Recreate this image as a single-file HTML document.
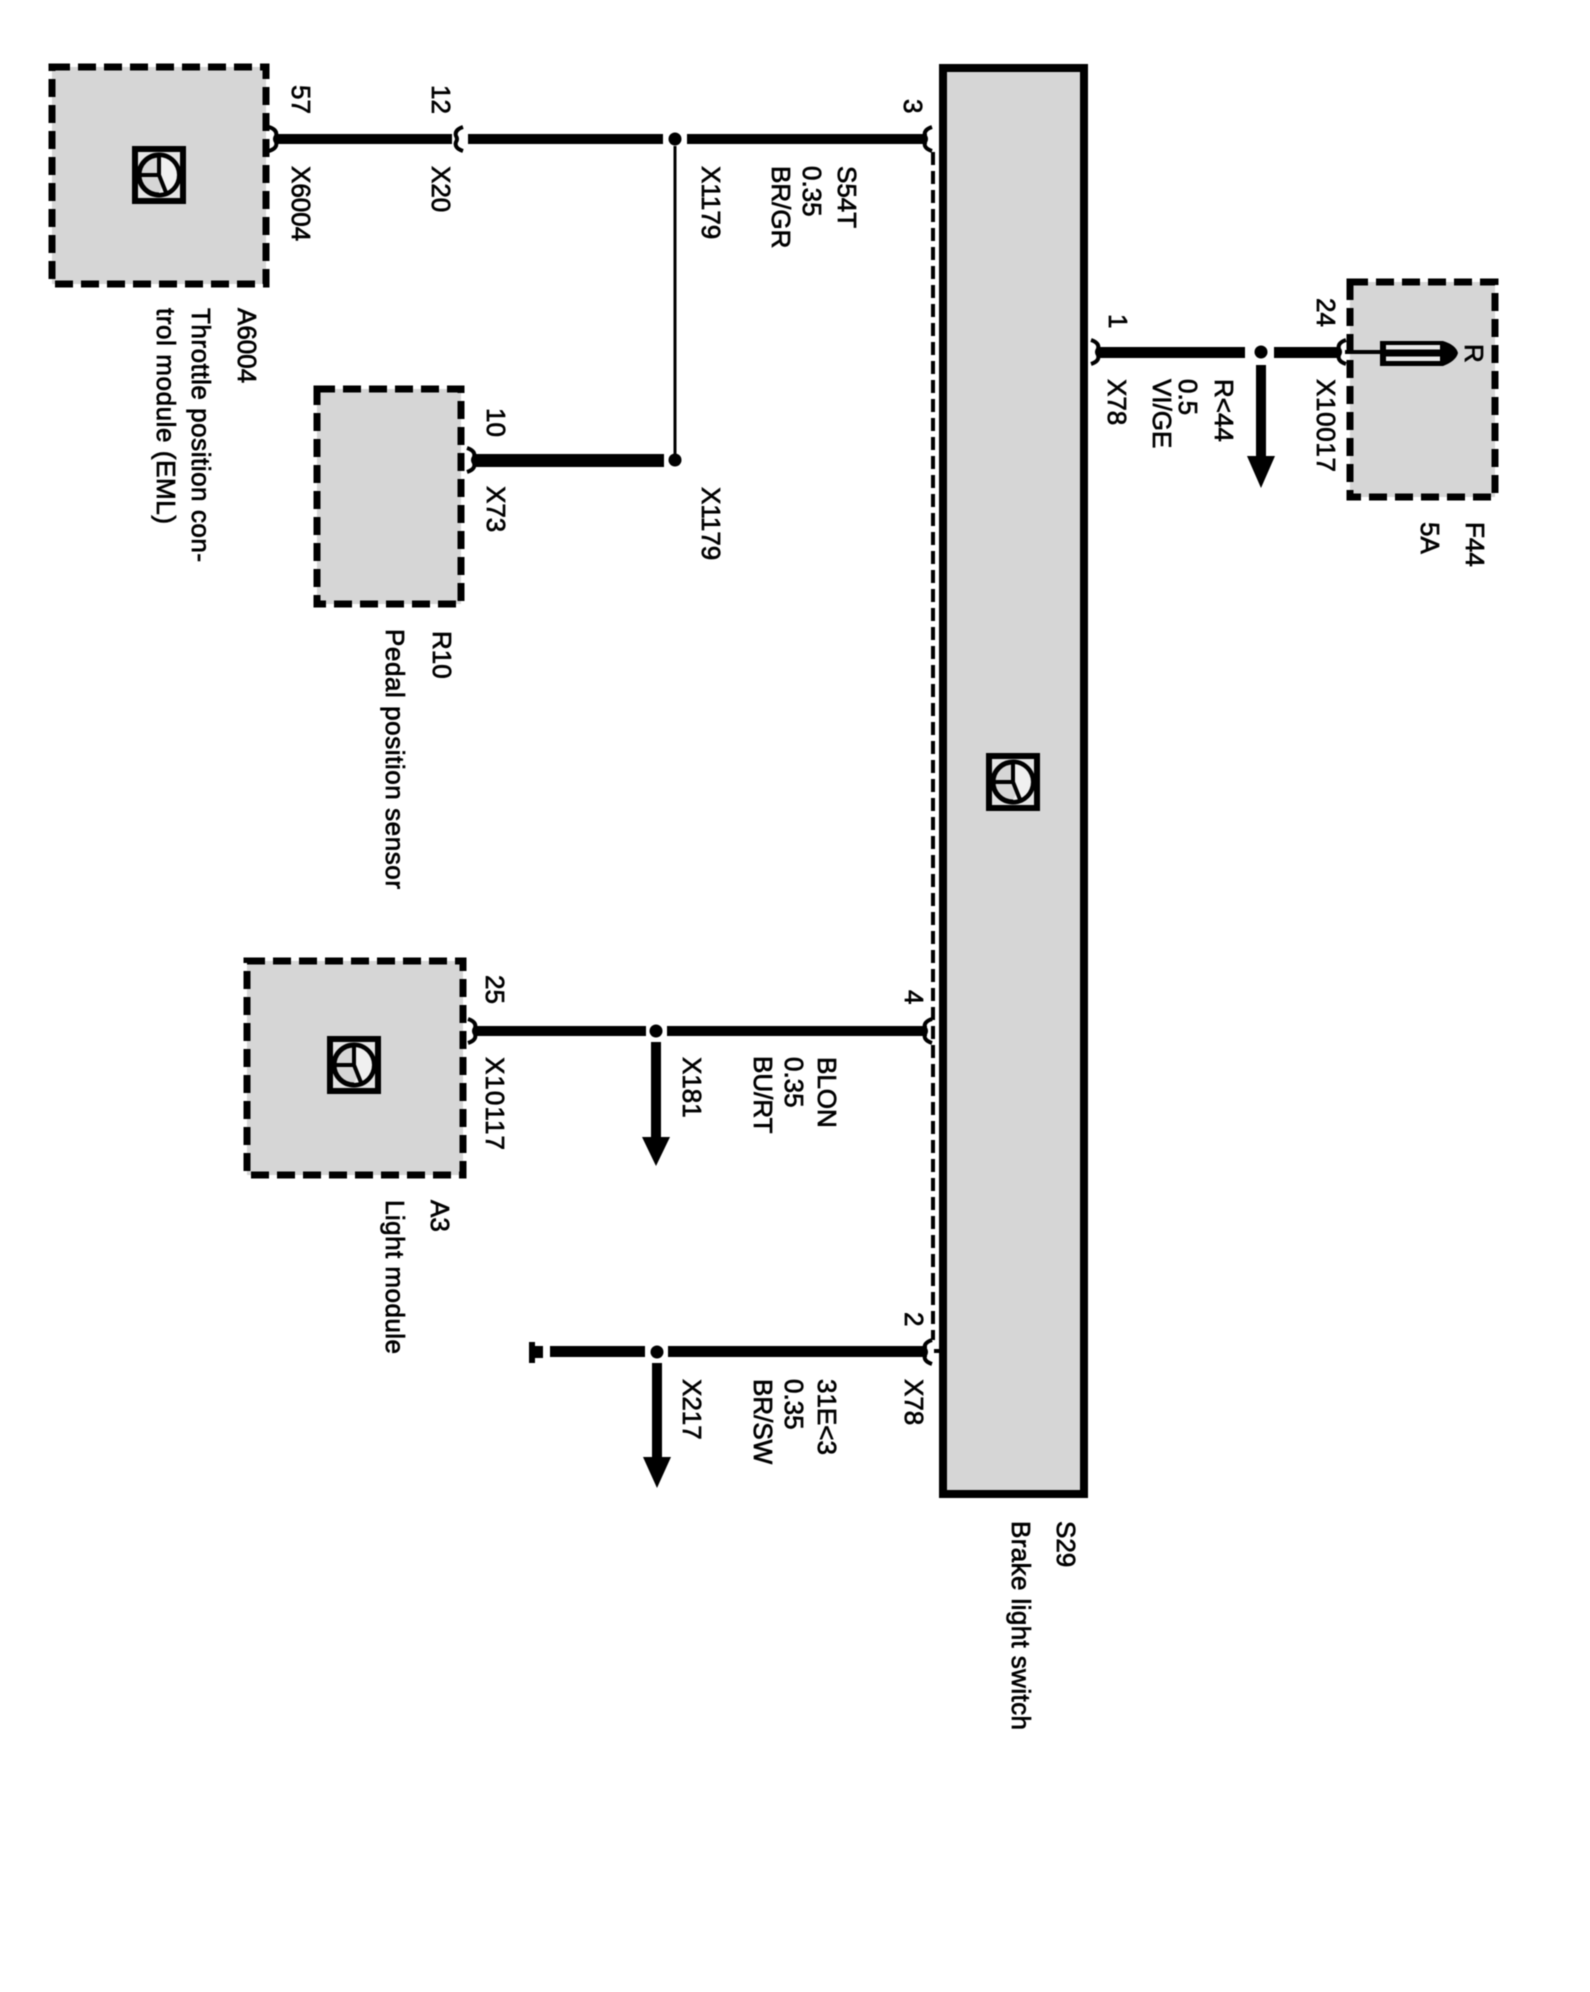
<!DOCTYPE html>
<html><head><meta charset="utf-8"><style>
html,body{margin:0;padding:0;background:#fff}
svg{display:block;filter:blur(.5px)}
text{font-family:"Liberation Sans",sans-serif;font-size:26px;fill:#000;stroke:#000;stroke-width:.7px}
</style></head><body>
<svg width="1590" height="1992" viewBox="0 0 1590 1992" xmlns="http://www.w3.org/2000/svg">
<defs>
<g id="ic">
<rect x="-24" y="-26" width="48" height="52" fill="#e4e4e4" stroke="#000" stroke-width="6"/>
<circle cx="0" cy="0" r="20" fill="#d6d6d6" stroke="#000" stroke-width="5"/>
<path d="M0 -18 A18 18 0 0 1 0 18 L5 8 L0 0Z" fill="#f0f0f0"/>
<path d="M-20 0H0M0 -20V0L8 20" fill="none" stroke="#000" stroke-width="4"/>
</g>
<path id="cr" d="M-6 -12 Q3 -9 1 -3 Q-1 0 1 3 Q3 9 -6 12" fill="none" stroke="#000" stroke-width="4"/>
<path id="cl" d="M6 -12 Q-3 -9 -1 -3 Q1 0 -1 3 Q-3 9 6 12" fill="none" stroke="#000" stroke-width="4"/>
</defs>

<!-- main switch -->
<rect x="943" y="68" width="141" height="1426" fill="#d6d6d6" stroke="#000" stroke-width="8"/>
<use href="#ic" x="1013" y="782"/>
<path d="M933 152V1340" stroke="#000" stroke-width="4" stroke-dasharray="13 6" fill="none"/>

<!-- boxes -->
<g fill="#d6d6d6" stroke="#000" stroke-width="7" stroke-dasharray="18 8">
<rect x="52" y="67" width="214" height="217"/>
<rect x="317" y="389" width="144" height="215"/>
<rect x="247" y="961" width="216" height="214"/>
<rect x="1350" y="282" width="145" height="215"/>
</g>
<use href="#ic" x="159" y="175"/>
<use href="#ic" x="354" y="1065"/>

<!-- wires -->
<g fill="#000">
<rect x="276" y="134" width="176" height="10"/>
<rect x="468" y="134" width="195" height="10"/>
<rect x="687" y="134" width="240" height="10"/>
<circle cx="675" cy="139" r="6.5"/>
<rect x="673.5" y="146" width="3" height="310"/>
<rect x="474" y="454" width="190" height="13"/>
<circle cx="675" cy="460" r="6.5"/>

<rect x="1098" y="347" width="147" height="11"/>
<circle cx="1261" cy="352" r="6.500"/>
<rect x="1274" y="347" width="66" height="11"/>
<rect x="1256" y="365" width="10" height="92"/>
<path d="M1247 456H1275L1261 488Z"/>
<rect x="1345" y="350" width="38" height="4"/>

<rect x="476" y="1026" width="170" height="10"/>
<circle cx="656" cy="1031" r="6.5"/>
<rect x="667" y="1026" width="260" height="10"/>
<rect x="651" y="1042" width="10" height="96"/>
<path d="M642 1137H670L656 1166Z"/>

<rect x="529" y="1342" width="6" height="21"/>
<rect x="533" y="1346" width="10" height="12"/>
<rect x="550" y="1346" width="95" height="11"/>
<circle cx="657" cy="1352" r="6.5"/>
<rect x="668" y="1346" width="259" height="11"/>
<rect x="652" y="1363" width="10" height="95"/>
<path d="M643 1457H671L657 1488Z"/>
</g>

<!-- connectors -->
<use href="#cr" x="275" y="139"/>
<use href="#cl" x="457" y="139"/>
<use href="#cl" x="926" y="139"/>
<use href="#cr" x="473" y="460"/>
<use href="#cr" x="1097" y="352"/>
<use href="#cl" x="1340" y="352"/>
<use href="#cr" x="474" y="1031"/>
<use href="#cl" x="926" y="1031"/>
<use href="#cl" x="926" y="1352"/>
<rect x="934" y="1349" width="6" height="4" fill="#000"/>

<!-- fuse -->
<path d="M1380 341H1443Q1456 345 1458 353Q1456 361 1443 366H1380Z" fill="#000"/>
<rect x="1386" y="345" width="54" height="4.500" fill="#e8e8e8"/>
<rect x="1386" y="356.500" width="54" height="4.500" fill="#e8e8e8"/>

<!-- labels -->
<text transform="translate(292,85) rotate(90)">57</text>
<text transform="translate(432,85) rotate(90)">12</text>
<text transform="translate(904,99) rotate(90)">3</text>
<text transform="translate(292,166) rotate(90)">X6004</text>
<text transform="translate(432,166) rotate(90)">X20</text>
<text transform="translate(702,166) rotate(90)">X1179</text>
<text transform="translate(838,166) rotate(90)">S54T</text>
<text transform="translate(803,166) rotate(90)">0.35</text>
<text transform="translate(772,166) rotate(90)">BR/GR</text>
<text transform="translate(238,308) rotate(90)">A6004</text>
<text transform="translate(192,308) rotate(90)" textLength="254">Throttle position con-</text>
<text transform="translate(157,308) rotate(90)" textLength="216">trol module (EML)</text>
<text transform="translate(487,408) rotate(90)">10</text>
<text transform="translate(487,486) rotate(90)">X73</text>
<text transform="translate(702,487) rotate(90)">X1179</text>
<text transform="translate(433,631) rotate(90)">R10</text>
<text transform="translate(386,629) rotate(90)" textLength="260">Pedal position sensor</text>

<text transform="translate(1109,314) rotate(90)">1</text>
<text transform="translate(1108,379) rotate(90)">X78</text>
<text transform="translate(1215,379) rotate(90)">R&lt;44</text>
<text transform="translate(1179,379) rotate(90)">0.5</text>
<text transform="translate(1153,379) rotate(90)">VI/GE</text>
<text transform="translate(1317,298) rotate(90)">24</text>
<text transform="translate(1317,379) rotate(90)" textLength="93">X10017</text>
<text transform="translate(1466,522) rotate(90)">F44</text>
<text transform="translate(1421,522) rotate(90)">5A</text>
<text transform="translate(1465,344) rotate(90)">R</text>

<text transform="translate(486,975) rotate(90)">25</text>
<text transform="translate(486,1057) rotate(90)" textLength="93">X10117</text>
<text transform="translate(683,1057) rotate(90)">X181</text>
<text transform="translate(818,1057) rotate(90)">BLON</text>
<text transform="translate(785,1057) rotate(90)">0.35</text>
<text transform="translate(754,1056) rotate(90)">BU/RT</text>
<text transform="translate(905,990) rotate(90)">4</text>
<text transform="translate(905,1312) rotate(90)">2</text>
<text transform="translate(431,1200) rotate(90)">A3</text>
<text transform="translate(386,1200) rotate(90)" textLength="154">Light module</text>

<text transform="translate(683,1379) rotate(90)">X217</text>
<text transform="translate(818,1379) rotate(90)">31E&lt;3</text>
<text transform="translate(785,1379) rotate(90)">0.35</text>
<text transform="translate(754,1379) rotate(90)">BR/SW</text>
<text transform="translate(905,1379) rotate(90)">X78</text>

<text transform="translate(1057,1521) rotate(90)">S29</text>
<text transform="translate(1012,1521) rotate(90)" textLength="209">Brake light switch</text>
</svg>
</body></html>
